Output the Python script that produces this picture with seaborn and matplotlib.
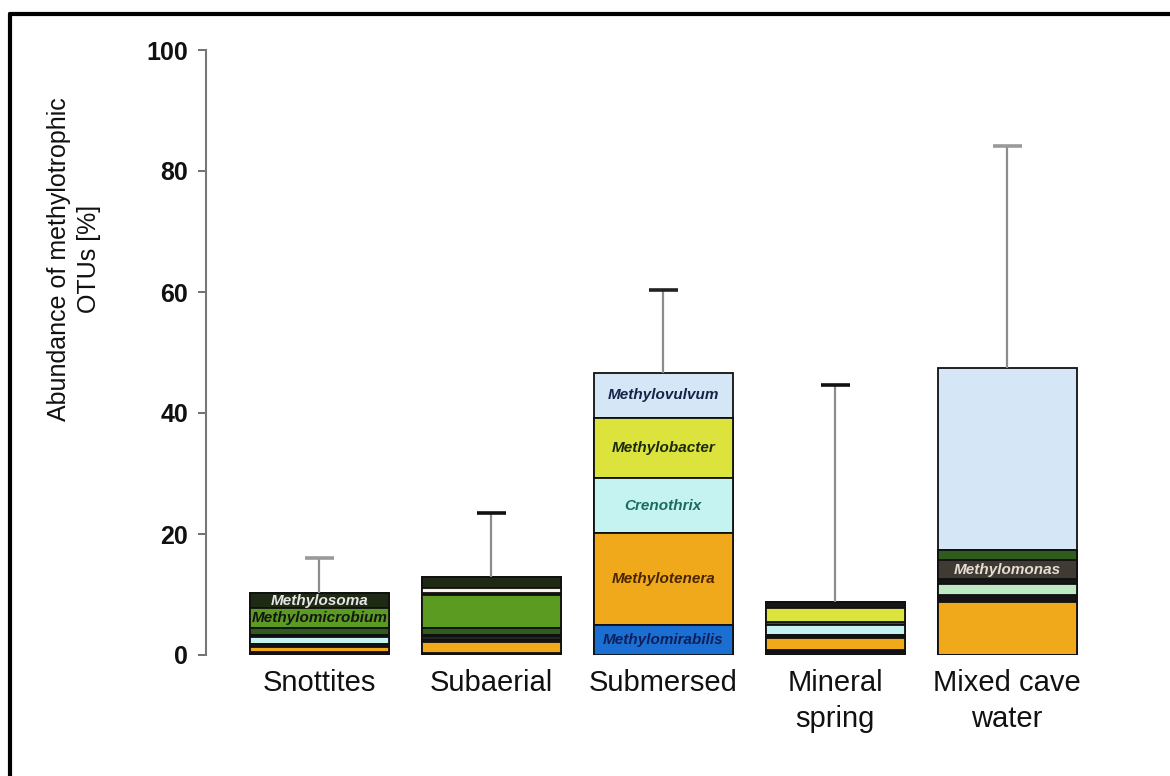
import numpy as np
import pandas as pd
import matplotlib
matplotlib.use("Agg")
import matplotlib.pyplot as plt
from matplotlib.lines import Line2D
import seaborn as sns

# ---------------- data ----------------
categories = ["Snottites", "Subaerial", "Submersed", "Mineral\nspring", "Mixed cave\nwater"]

# abundance (%) of each genus per habitat, listed from the bottom of the stack upwards
methylomirabilis = [0.0, 0.0, 4.9, 0.0, 0.0]
methylococcus    = [0.55, 0.4, 0.0, 0.8, 0.0]
methylotenera    = [0.85, 1.8, 15.3, 1.95, 8.8]
methylophilus    = [0.5, 0.4, 0.0, 0.55, 1.1]
methylocystis    = [0.0, 0.4, 0.0, 0.0, 1.9]
crenothrix       = [1.1, 0.0, 9.0, 1.7, 0.0]
methylobacillus  = [0.3, 0.3, 0.0, 0.0, 0.7]
methylomonas     = [0.0, 0.0, 0.0, 0.0, 3.2]
methylosarcina   = [1.1, 1.1, 0.0, 0.5, 1.7]
methylobacter    = [0.0, 0.0, 10.0, 2.2, 0.0]
methylomicrobium = [3.3, 5.5, 0.0, 0.0, 0.0]
methylocaldum    = [0.0, 0.4, 0.0, 1.1, 0.0]
hyphomicrobium   = [0.0, 0.7, 0.0, 0.0, 0.0]
methylosoma      = [2.5, 1.9, 0.0, 0.0, 0.0]
methylovulvum    = [0.0, 0.0, 7.4, 0.0, 30.0]

# upper standard deviation of the total abundance
error_sd = [5.8, 10.6, 13.7, 35.8, 36.7]

layers = [
    ("Methylomirabilis", methylomirabilis, "#1c6fd2"),
    ("Methylococcus",    methylococcus,    "#121212"),
    ("Methylotenera",    methylotenera,    "#f1a91c"),
    ("Methylophilus",    methylophilus,    "#141414"),
    ("Methylocystis",    methylocystis,    "#bfe8c4"),
    ("Crenothrix",       crenothrix,       "#c4f3f2"),
    ("Methylobacillus",  methylobacillus,  "#151515"),
    ("Methylomonas",     methylomonas,     "#3f3a34"),
    ("Methylosarcina",   methylosarcina,   "#2f5b1d"),
    ("Methylobacter",    methylobacter,    "#dbe33c"),
    ("Methylomicrobium", methylomicrobium, "#5b9b22"),
    ("Methylocaldum",    methylocaldum,    "#161616"),
    ("Hyphomicrobium",   hyphomicrobium,   "#f3f3e6"),
    ("Methylosoma",      methylosoma,      "#1f2a15"),
    ("Methylovulvum",    methylovulvum,    "#d5e6f6"),
]

# genus names written inside the bars: (habitat index, genus, text colour)
bar_labels = [
    (0, "Methylosoma",      "#e6e6e6"),
    (0, "Methylomicrobium", "#151515"),
    (2, "Methylomirabilis", "#0f1f5a"),
    (2, "Methylotenera",    "#4a2600"),
    (2, "Crenothrix",       "#1b6b5e"),
    (2, "Methylobacter",    "#1c2a0c"),
    (2, "Methylovulvum",    "#15244a"),
    (4, "Methylomonas",     "#e4ddd2"),
]

cap_colors = ["#9a9a9a", "#111111", "#222222", "#111111", "#9a9a9a"]

# ---------------- style ----------------
sns.set_theme(style="white")
plt.rcParams["font.family"] = ["Liberation Sans", "DejaVu Sans"]
plt.rcParams["text.color"] = "#111111"
plt.rcParams["axes.labelcolor"] = "#111111"

fig = plt.figure(figsize=(11.7, 7.76), dpi=100)
ax = fig.add_axes([206 / 1170, 121 / 776, 894 / 1170, 605 / 776])

values = np.array([vals for _, vals, _ in layers])
cumulative = np.cumsum(values, axis=0)
totals = cumulative[-1]

# stacked bars: draw cumulative heights from the top layer downwards
for i in range(len(layers) - 1, -1, -1):
    name, _, colour = layers[i]
    df = pd.DataFrame({"habitat": categories, "value": cumulative[i]})
    sns.barplot(data=df, x="habitat", y="value", color=colour, saturation=1,
                width=0.81, edgecolor="#101010", linewidth=1.3, ax=ax,
                errorbar=None)

# error bars above the stacks
for j, cat in enumerate(categories):
    ax.errorbar(j, totals[j], yerr=[[0], [error_sd[j]]], fmt="none",
                ecolor="#8c8c8c", elinewidth=1.6, capsize=0, zorder=1)
    top = totals[j] + error_sd[j]
    ax.plot([j - 0.085, j + 0.085], [top, top], color=cap_colors[j],
            lw=2.6, solid_capstyle="butt", zorder=3)

# genus labels at the middle of their segment
names = [n for n, _, _ in layers]
for j, genus, tcol in bar_labels:
    k = names.index(genus)
    mid = cumulative[k][j] - values[k][j] / 2
    ax.text(j, mid, genus, ha="center", va="center", fontsize=11,
            fontstyle="italic", fontweight="bold", color=tcol, zorder=5)

# ---------------- axes ----------------
ax.set_xlim(-0.66, 4.54)
ax.set_ylim(0, 100)
ax.set_yticks([0, 20, 40, 60, 80, 100])
ax.set_xlabel("")
ax.set_ylabel("Abundance of methylotrophic\nOTUs [%]", fontsize=18,
              linespacing=1.3, color="#111111")
ax.yaxis.set_label_coords(-0.118, 0.655)
ax.tick_params(axis="y", left=True, length=6, width=1.3, color="#666666",
               pad=7, labelsize=18, labelcolor="#111111")
for lab in ax.get_yticklabels():
    lab.set_fontweight("bold")
ax.tick_params(axis="x", bottom=False, length=0, pad=10, labelsize=21,
               labelcolor="#111111")
ax.set_xticks(range(len(categories)))
ax.set_xticklabels(categories, linespacing=1.35)

for side in ["top", "right", "bottom"]:
    ax.spines[side].set_visible(False)
ax.spines["left"].set_color("#777777")
ax.spines["left"].set_linewidth(1.5)

# surrounding frame lines
fig.add_artist(Line2D([10 / 1170, 1.0], [1 - 14 / 776, 1 - 14 / 776],
                      transform=fig.transFigure, color="black", lw=3))
fig.add_artist(Line2D([10 / 1170, 10 / 1170], [0, 1 - 14 / 776],
                      transform=fig.transFigure, color="black", lw=3))

fig.savefig("out.png", dpi=100)
